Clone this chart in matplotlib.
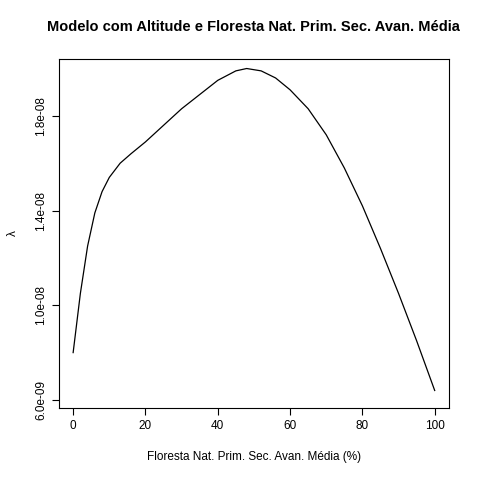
import numpy as np
import matplotlib
matplotlib.use("Agg")
import matplotlib.pyplot as plt

# values
floresta = [0, 2, 4, 6, 8, 10, 13, 16, 20, 25, 30, 35, 40, 45, 48, 52, 56, 60,
            65, 70, 75, 80, 85, 90, 95, 100]
lam = np.array([8.0, 10.5, 12.5, 13.9, 14.8, 15.4, 16.0, 16.4, 16.9, 17.6, 18.3,
                18.9, 19.5, 19.9, 20.0, 19.9, 19.6, 19.1, 18.3, 17.2, 15.8, 14.2,
                12.4, 10.5, 8.5, 6.4]) * 1e-9
xticks = [0, 20, 40, 60, 80, 100]
yticks = [6e-9, 1e-8, 1.4e-8, 1.8e-8]
ylabels = ["6.0e-09", "1.0e-08", "1.4e-08", "1.8e-08"]

plt.rcParams["font.family"] = ["Liberation Sans", "DejaVu Sans"]
fig = plt.figure(figsize=(4.8, 4.8), dpi=100)
ax = fig.add_axes([0.123, 0.15, 0.812, 0.727])
ax.plot(floresta, lam, color="black", lw=0.9)
ax.set_xlim(-3.9, 103.9)
ax.set_ylim(5.66e-9, 20.4e-9)
ax.set_xticks(xticks)
ax.set_yticks(yticks)
ax.set_yticklabels(ylabels, rotation=90, va="center")
ax.tick_params(labelsize=8.5, length=5)
ax.set_xlabel("Floresta Nat. Prim. Sec. Avan. Média (%)", fontsize=8.5, labelpad=14)
ax.set_ylabel("λ", fontsize=8.5, labelpad=12)
ax.set_title("Modelo com Altitude e Floresta Nat. Prim. Sec. Avan. Média",
             fontsize=10.5, fontweight="bold", pad=20)
fig.savefig("out.png", dpi=100)
